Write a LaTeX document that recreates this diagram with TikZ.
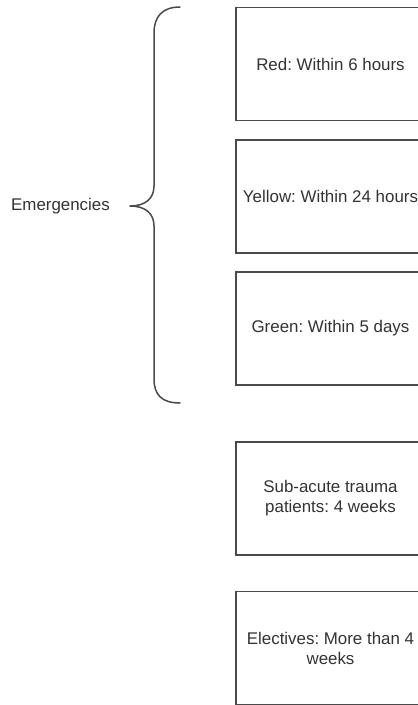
\documentclass[tikz,border=0pt]{standalone}
\usepackage{fontspec}
\setmainfont{Liberation Sans}
\frenchspacing
\definecolor{inkline}{HTML}{4A4A4A}
\definecolor{inktext}{HTML}{333333}
\begin{document}
\begin{tikzpicture}[x=1pt, y=-1pt,
  every node/.style={font=\fontsize{16.9}{20}\selectfont, text=inktext},
  timebox/.style={draw=inkline, line width=1.5pt, minimum width=189pt,
    minimum height=113pt, align=center, inner sep=0pt},
  bracket/.style={draw=inkline, line width=1.5pt, line cap=round, line join=round}]
  \useasboundingbox (0,0) rectangle (418,705);
  \clip (0,0) rectangle (418,705);
  \fill[white] (0,0) rectangle (418,705);

  % time-limit boxes
  \node[timebox] (red)    at (330.5,64)    {Red: Within 6 hours};
  \node[timebox] (yellow) at (330.5,196.5) {Yellow: Within 24 hours};
  \node[timebox] (green)  at (330.5,328.5) {Green: Within 5 days};
  \node[timebox] (subacute) at (330.5,498.5) {Sub-acute trauma\\patients: 4 weeks};
  \node[timebox] (electives) at (330.5,648) {Electives: More than 4\\weeks};

  % curly brace grouping the emergency categories
  \coordinate (btop) at (180,7);
  \coordinate (btip) at (130,206);
  \coordinate (bbot) at (180,403);
  \draw[bracket] (btop) .. controls (162,7) and (154,17) .. (154,33)
    -- (154,186) .. controls (154,198) and (146,206) .. (btip)
    .. controls (146,206) and (154,214) .. (154,226)
    -- (154,379) .. controls (154,395) and (162,403) .. (bbot);

  \node[anchor=east, inner sep=0pt] (emerg) at ([xshift=-20pt]btip) {Emergencies};
\end{tikzpicture}
\end{document}
